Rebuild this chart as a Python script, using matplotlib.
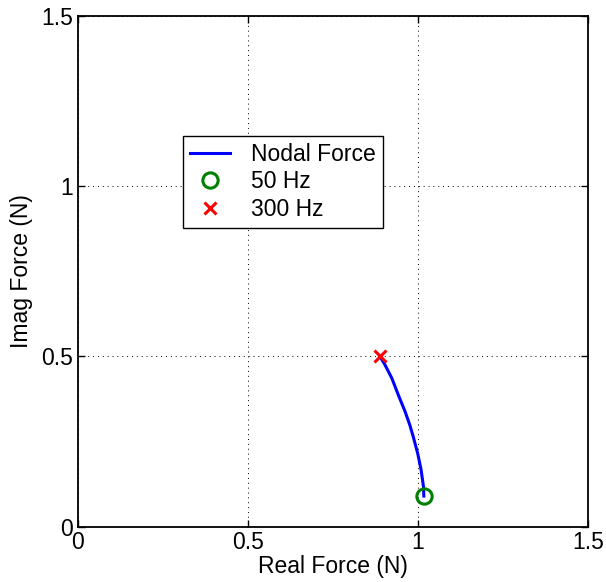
import matplotlib
matplotlib.use("Agg")
import matplotlib.pyplot as plt

real_force = [1.017, 1.016, 1.009, 0.999, 0.986, 0.976, 0.962, 0.942, 0.923, 0.903, 0.888]
imag_force = [0.090, 0.117, 0.167, 0.215, 0.264, 0.298, 0.338, 0.387, 0.436, 0.475, 0.500]
pt50 = (1.017, 0.090)
pt300 = (0.888, 0.500)
ticks = [0, 0.5, 1, 1.5]
tick_labels = ["0", "0.5", "1", "1.5"]

plt.rcParams['font.family'] = ['Liberation Sans', 'DejaVu Sans']
plt.rcParams['font.size'] = 16.5

fig = plt.figure(figsize=(6.06, 5.82), dpi=100)
ax = fig.add_axes([0.1279, 0.095, 0.9708 - 0.1279, 0.973 - 0.095])

ax.plot(real_force, imag_force, color='#0000ff', lw=2.2, label='Nodal Force', zorder=3,
        solid_joinstyle='round')
ax.plot([pt50[0]], [pt50[1]], 'o', mfc='none', mec='#008000', mew=2.2, ms=11,
        ls='none', label='50 Hz', zorder=4)
ax.plot([pt300[0]], [pt300[1]], 'x', color='#ff0000', mew=2.2, ms=8,
        ls='none', label='300 Hz', zorder=4)

ax.set_xlim(0, 1.5)
ax.set_ylim(0, 1.5)
ax.set_xticks(ticks)
ax.set_xticklabels(tick_labels)
ax.set_yticks(ticks)
ax.set_yticklabels(tick_labels)
ax.grid(True, color='black', ls=(0, (1, 4)), lw=0.7)
ax.tick_params(direction='in', top=True, right=True, length=5, width=1, labelsize=16.5, pad=3)
for s in ax.spines.values():
    s.set_linewidth(1.3)
ax.set_xlabel('Real Force (N)', fontsize=16.5, labelpad=1)
ax.set_ylabel('Imag Force (N)', fontsize=16.5, labelpad=6)

leg = ax.legend(loc='upper left', bbox_to_anchor=(0.206, 0.765), fancybox=False,
                edgecolor='black', framealpha=1, fontsize=16.5, handlelength=1.75,
                borderpad=0.3, labelspacing=0.2, handletextpad=0.95, borderaxespad=0)
leg.get_frame().set_linewidth(1.0)

fig.savefig('out.png', dpi=100)
